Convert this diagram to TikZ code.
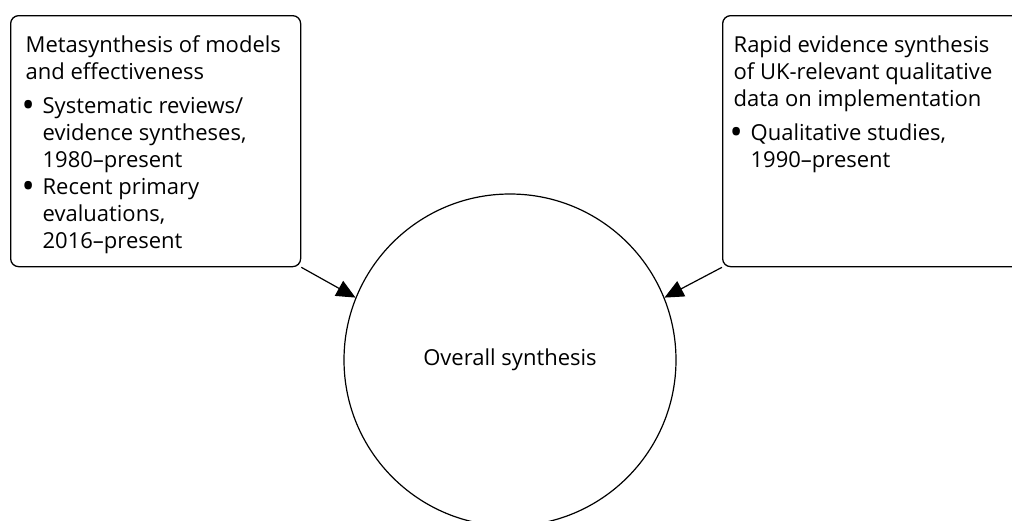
\documentclass[tikz,border=0pt]{standalone}
\usepackage{fontspec}
\setmainfont{Open Sans}
\usetikzlibrary{arrows.meta}
\newcommand{\bul}{\makebox[17pt][l]{\hspace{-4pt}\raisebox{-0.17em}{\scalebox{1.6}{\textbullet}}}}
\newcommand{\ind}{\hspace*{17pt}}
\begin{document}
\begin{tikzpicture}[x=1pt,y=-1pt,
    txt/.style={font=\fontsize{22pt}{27pt}\selectfont},
    box/.style={draw,rounded corners=8pt,line width=1.3pt,inner ysep=0pt,anchor=north west,txt},
    link/.style={line width=1.2pt,-{Triangle[length=19pt,width=17pt]}}]
    \useasboundingbox (0,0) rectangle (1012,520);
    \clip (0,0) rectangle (1012,520);
    % sources
    \node[box,inner xsep=15pt] (meta) at (10,15) {\parbox[c][251pt][t]{260pt}{\raggedright
        \rule{0pt}{37pt}Metasynthesis of models\\
        and effectiveness\\[7pt]
        \bul Systematic reviews/\\
        \ind evidence syntheses,\\
        \ind 1980--present\\
        \bul Recent primary\\
        \ind evaluations,\\
        \ind 2016--present}};
    \node[box,inner xsep=11pt] (rapid) at (722,15) {\parbox[c][251pt][t]{290pt}{\raggedright
        \rule{0pt}{37pt}Rapid evidence synthesis\\
        of UK-relevant qualitative\\
        data on implementation\\[7pt]
        \bul Qualitative studies,\\
        \ind 1990--present}};
    % synthesis
    \node[draw,circle,line width=1.2pt,minimum size=332pt,txt] (overall) at (510,360) {Overall synthesis};
    \draw[link] (meta.south east) -- (overall.158);
    \draw[link] (rapid.south west) -- (overall.22);
\end{tikzpicture}
\end{document}
